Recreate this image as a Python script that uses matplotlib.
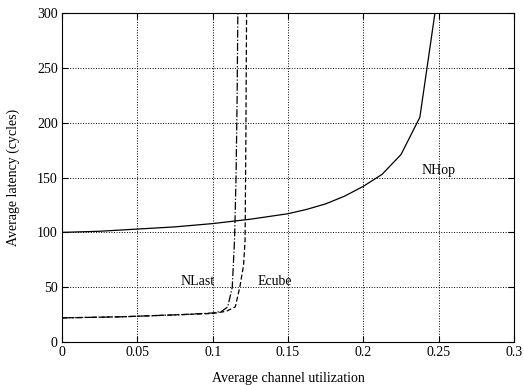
import matplotlib
matplotlib.use("Agg")
import matplotlib.pyplot as plt

plt.rcParams['font.family'] = ['Liberation Serif', 'DejaVu Serif']

nhop_x = [0, 0.025, 0.05, 0.075, 0.1, 0.125, 0.15, 0.1625, 0.175, 0.1875, 0.2, 0.2125, 0.225, 0.2375, 0.2475]
nhop_y = [100, 101, 103, 105, 108, 112, 117, 121, 126, 133, 142, 153, 171, 205, 300]

nlast_x = [0, 0.02, 0.04, 0.06, 0.08, 0.1, 0.106, 0.11, 0.113, 0.1145, 0.1155, 0.1162, 0.1167]
nlast_y = [22, 22.5, 23, 24, 25, 26.5, 28, 32, 50, 93, 150, 220, 300]

ecube_x = [0, 0.02, 0.04, 0.06, 0.08, 0.1, 0.109, 0.115, 0.118, 0.1205, 0.1215, 0.122, 0.1225]
ecube_y = [22, 22.5, 23, 24, 25, 26, 28, 32, 50, 70, 93, 180, 300]

labels = ["NLast", "Ecube", "NHop"]
label_pos = [(0.09, 55), (0.141, 55), (0.25, 156)]

xticks = [0, 0.05, 0.1, 0.15, 0.2, 0.25, 0.3]
xticklabels = ["0", "0.05", "0.1", "0.15", "0.2", "0.25", "0.3"]
yticks = [0, 50, 100, 150, 200, 250, 300]

fig = plt.figure(figsize=(5.24, 3.85), dpi=100)
ax = fig.add_axes([0.1183, 0.1117, 0.8627, 0.8543])

ax.plot(nhop_x, nhop_y, color='black', lw=0.9, ls='-')
ax.plot(nlast_x, nlast_y, color='black', lw=0.9, ls='-.')
ax.plot(ecube_x, ecube_y, color='black', lw=0.9, ls=(0, (4, 2)))

for lab, (lx, ly) in zip(labels, label_pos):
    ax.text(lx, ly, lab, ha='center', va='center', fontsize=10)

ax.set_xlim(0, 0.3)
ax.set_ylim(0, 300)
ax.set_xticks(xticks)
ax.set_xticklabels(xticklabels)
ax.set_yticks(yticks)
ax.grid(True, color='black', ls=':', lw=0.7)
ax.tick_params(direction='in', top=True, right=True, labelsize=10, length=4, pad=3)
for s in ax.spines.values():
    s.set_linewidth(0.8)

ax.set_xlabel("Average channel utilization", fontsize=10, labelpad=9)
ax.set_ylabel("Average latency (cycles)", fontsize=10, labelpad=12)

fig.savefig("out.png", dpi=100)
